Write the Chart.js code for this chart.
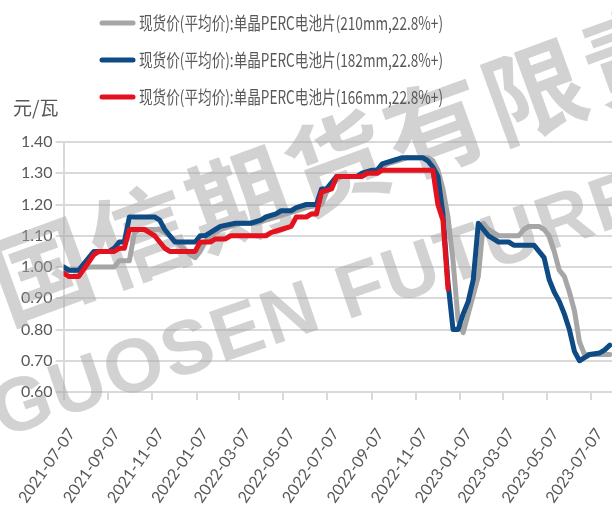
<!DOCTYPE html>
<html>
<head>
<meta charset="utf-8">
<script src="https://cdn.jsdelivr.net/npm/chart.js@4.4.1/dist/chart.umd.min.js"></script>
<style>
  body { margin: 0; background: #fff; }
</style>
</head>
<body>
<canvas id="priceChart" width="612" height="511"></canvas>
<script>
// date axis: labels every two months, axis runs a little past the last one
const tickDates = ['2021-07-07', '2021-09-07', '2021-11-07', '2022-01-07', '2022-03-07', '2022-05-07',
  '2022-07-07', '2022-09-07', '2022-11-07', '2023-01-07', '2023-03-07', '2023-05-07', '2023-07-07'];
const axisStart = '2021-07-07';
const axisEnd = '2023-08-05';
const unitLabel = '元/瓦';

const seriesNames = [
  '现货价(平均价):单晶PERC电池片(210mm,22.8%+)',
  '现货价(平均价):单晶PERC电池片(182mm,22.8%+)',
  '现货价(平均价):单晶PERC电池片(166mm,22.8%+)'
];

// 210mm (gray) - weekly readings where the line changes
const dates210 = ['2021-07-07', '2021-07-28', '2021-08-11', '2021-09-15', '2021-09-22', '2021-10-06', '2021-10-13',
  '2021-10-20', '2021-11-17', '2021-12-01', '2021-12-15', '2021-12-29', '2022-01-05', '2022-01-12', '2022-01-19',
  '2022-01-26', '2022-02-02', '2022-02-09', '2022-02-23', '2022-03-09', '2022-03-30', '2022-04-13', '2022-04-27',
  '2022-05-11', '2022-05-25', '2022-06-08', '2022-06-29', '2022-07-06', '2022-07-13', '2022-07-20', '2022-07-27',
  '2022-08-24', '2022-08-31', '2022-09-14', '2022-09-21', '2022-09-28', '2022-10-12', '2022-10-26', '2022-11-23',
  '2022-11-30', '2022-12-07', '2022-12-14', '2022-12-21', '2022-12-28', '2023-01-04', '2023-01-11', '2023-01-18',
  '2023-01-25', '2023-02-01', '2023-02-08', '2023-02-15', '2023-02-22', '2023-03-01', '2023-03-29', '2023-04-05',
  '2023-04-12', '2023-04-26', '2023-05-03', '2023-05-10', '2023-05-17', '2023-05-24', '2023-05-31', '2023-06-07',
  '2023-06-14', '2023-06-21', '2023-06-28', '2023-08-02'];
const prices210 = [0.99, 0.99, 1.00, 1.00, 1.02, 1.02, 1.11,
  1.12, 1.12, 1.10, 1.07, 1.04, 1.03, 1.05, 1.08,
  1.10, 1.11, 1.12, 1.13, 1.14, 1.14, 1.15, 1.16,
  1.17, 1.18, 1.19, 1.20, 1.24, 1.26, 1.28, 1.29,
  1.29, 1.30, 1.31, 1.32, 1.33, 1.34, 1.35, 1.35,
  1.34, 1.31, 1.25, 1.16, 1.02, 0.83, 0.79, 0.85,
  0.91, 0.97, 1.14, 1.12, 1.11, 1.10, 1.10, 1.12,
  1.13, 1.13, 1.12, 1.10, 1.05, 0.99, 0.97, 0.92,
  0.86, 0.76, 0.72, 0.72];

// 182mm (blue)
const dates182 = ['2021-07-07', '2021-07-14', '2021-07-28', '2021-08-18', '2021-09-08', '2021-09-15', '2021-09-22',
  '2021-09-29', '2021-10-06', '2021-11-10', '2021-11-17', '2021-11-24', '2021-12-01', '2021-12-08', '2022-01-05',
  '2022-01-12', '2022-01-19', '2022-01-26', '2022-02-02', '2022-02-09', '2022-03-02', '2022-03-23', '2022-04-06',
  '2022-04-13', '2022-04-27', '2022-05-04', '2022-05-18', '2022-05-25', '2022-06-08', '2022-06-22', '2022-06-29',
  '2022-07-06', '2022-07-13', '2022-07-20', '2022-07-27', '2022-08-17', '2022-08-24', '2022-09-07', '2022-09-14',
  '2022-09-21', '2022-10-05', '2022-10-19', '2022-11-16', '2022-11-23', '2022-11-30', '2022-12-07', '2022-12-14',
  '2022-12-21', '2022-12-28', '2023-01-04', '2023-01-11', '2023-01-18', '2023-01-25', '2023-02-01', '2023-02-08',
  '2023-02-15', '2023-02-22', '2023-03-01', '2023-03-15', '2023-03-22', '2023-04-19', '2023-04-26', '2023-05-03',
  '2023-05-10', '2023-05-17', '2023-05-24', '2023-05-31', '2023-06-07', '2023-06-14', '2023-06-21', '2023-06-28',
  '2023-07-05', '2023-07-19', '2023-07-26', '2023-08-02'];
const prices182 = [1.00, 0.99, 0.99, 1.05, 1.05, 1.06, 1.08,
  1.08, 1.16, 1.16, 1.15, 1.12, 1.10, 1.08, 1.08,
  1.10, 1.10, 1.11, 1.12, 1.13, 1.14, 1.14, 1.15,
  1.16, 1.17, 1.18, 1.18, 1.19, 1.20, 1.20, 1.25,
  1.25, 1.27, 1.29, 1.29, 1.29, 1.30, 1.31, 1.31,
  1.33, 1.34, 1.35, 1.35, 1.34, 1.32, 1.29, 1.17,
  0.95, 0.80, 0.80, 0.85, 0.89, 0.96, 1.14, 1.12,
  1.10, 1.09, 1.08, 1.08, 1.07, 1.07, 1.05, 1.03,
  0.96, 0.92, 0.89, 0.85, 0.80, 0.73, 0.70, 0.71,
  0.72, 0.725, 0.735, 0.75];

// 166mm (red) - series stops in late December 2022
const dates166 = ['2021-07-07', '2021-07-14', '2021-07-28', '2021-08-18', '2021-08-25', '2021-09-15', '2021-09-22',
  '2021-09-29', '2021-10-06', '2021-10-27', '2021-11-03', '2021-11-10', '2021-11-17', '2021-11-24', '2021-12-01',
  '2022-01-05', '2022-01-12', '2022-01-26', '2022-02-02', '2022-02-16', '2022-02-23', '2022-04-13', '2022-04-20',
  '2022-05-04', '2022-05-18', '2022-05-25', '2022-06-08', '2022-06-15', '2022-06-22', '2022-06-29', '2022-07-13',
  '2022-07-20', '2022-08-24', '2022-08-31', '2022-09-14', '2022-09-21', '2022-11-30', '2022-12-07', '2022-12-14',
  '2022-12-21'];
const prices166 = [0.98, 0.97, 0.97, 1.04, 1.05, 1.05, 1.06,
  1.06, 1.12, 1.12, 1.11, 1.10, 1.08, 1.06, 1.05,
  1.05, 1.08, 1.08, 1.09, 1.09, 1.10, 1.10, 1.11,
  1.12, 1.13, 1.16, 1.16, 1.17, 1.17, 1.24, 1.25,
  1.29, 1.29, 1.30, 1.30, 1.31, 1.31, 1.20, 1.15,
  0.93];

const dayMs = 86400000;
const startMs = Date.parse(axisStart);
const toDay = (s) => Math.round((Date.parse(s) - startMs) / dayMs);
const toPoints = (dates, values) => dates.map((d, i) => ({ x: toDay(d), y: values[i] }));

const textColor = '#595959';
const gridColor = '#d9d9d9';
const tickFont = { family: 'Lato, "Noto Sans", sans-serif', size: 16 };

// big grey company watermark behind the lines
const watermark = {
  id: 'watermark',
  beforeDatasetsDraw(chart) {
    const ctx = chart.ctx;
    ctx.save();
    ctx.fillStyle = 'rgba(165,165,165,0.5)';
    ctx.textBaseline = 'middle';
    ctx.font = 'bold 100px "Noto Sans CJK SC"';
    ctx.letterSpacing = '5px';
    ctx.translate(-6, 288);
    ctx.rotate(-0.35);
    ctx.fillText('国信期货有限责任公司', 0, 0);
    ctx.restore();

    ctx.save();
    ctx.fillStyle = 'rgba(165,165,165,0.5)';
    ctx.textBaseline = 'alphabetic';
    ctx.font = 'bold 76px "Liberation Sans"';
    ctx.letterSpacing = '2px';
    ctx.translate(2, 438);
    ctx.rotate(-0.33);
    ctx.fillText('GUOSEN FUTURES', 0, 0);
    ctx.restore();
  }
};

// legend rows + unit text in the top-left, the way the source lays them out
const topLegend = {
  id: 'topLegend',
  afterDraw(chart) {
    const ctx = chart.ctx;
    chart.data.datasets.forEach((ds, i) => {
      const y = 23 + i * 37;
      ctx.save();
      ctx.strokeStyle = ds.borderColor;
      ctx.lineWidth = 5;
      ctx.lineCap = 'round';
      ctx.beginPath();
      ctx.moveTo(102, y);
      ctx.lineTo(133, y);
      ctx.stroke();
      ctx.font = '18px "Noto Sans CJK SC"';
      ctx.fillStyle = textColor;
      ctx.textBaseline = 'middle';
      const w = ctx.measureText(ds.label).width;
      ctx.translate(139, y);
      ctx.scale(304 / w, 1); // source font is a narrow one
      ctx.fillText(ds.label, 0, 0);
      ctx.restore();
    });
    ctx.save();
    ctx.font = '19px "Noto Sans CJK SC"';
    ctx.fillStyle = textColor;
    ctx.textBaseline = 'middle';
    ctx.fillText(unitLabel, 13, 108);
    ctx.restore();
  }
};

new Chart(document.getElementById('priceChart'), {
  type: 'line',
  data: {
    datasets: [
      { label: seriesNames[0], data: toPoints(dates210, prices210), borderColor: '#a6a6a6', order: 3 },
      { label: seriesNames[1], data: toPoints(dates182, prices182), borderColor: '#0e4b84', order: 2 },
      { label: seriesNames[2], data: toPoints(dates166, prices166), borderColor: '#e3121e', order: 1 }
    ]
  },
  options: {
    responsive: false,
    animation: false,
    layout: { padding: { top: 142, left: 18, right: 0, bottom: 0 } },
    elements: {
      line: { borderWidth: 5, tension: 0, borderJoinStyle: 'round', borderCapStyle: 'round' },
      point: { radius: 0 }
    },
    plugins: {
      legend: { display: false },
      tooltip: { enabled: false }
    },
    scales: {
      x: {
        type: 'linear',
        min: 0,
        max: toDay(axisEnd),
        afterBuildTicks: (axis) => {
          axis.ticks = tickDates.map(d => ({ value: toDay(d) }));
        },
        // rotated labels would otherwise squeeze the plot from both sides
        afterFit: (axis) => {
          axis.paddingLeft = 0;
          axis.paddingRight = 0;
          axis.height = 119;
        },
        ticks: {
          autoSkip: false,
          minRotation: 55,
          maxRotation: 55,
          padding: 25,
          labelOffset: 8,
          color: textColor,
          font: tickFont,
          callback: (v) => new Date(startMs + v * dayMs).toISOString().slice(0, 10)
        },
        grid: { drawOnChartArea: false, color: gridColor, lineWidth: 2, tickLength: 8 },
        border: { display: true, color: gridColor, width: 2 }
      },
      y: {
        min: 0.6,
        max: 1.4,
        ticks: {
          stepSize: 0.1,
          padding: 3,
          color: textColor,
          font: tickFont,
          callback: (v) => v.toFixed(2)
        },
        grid: { color: gridColor, lineWidth: 2, tickLength: 8 },
        border: { display: true, color: gridColor, width: 2 }
      }
    }
  },
  plugins: [watermark, topLegend]
});
</script>
</body>
</html>
